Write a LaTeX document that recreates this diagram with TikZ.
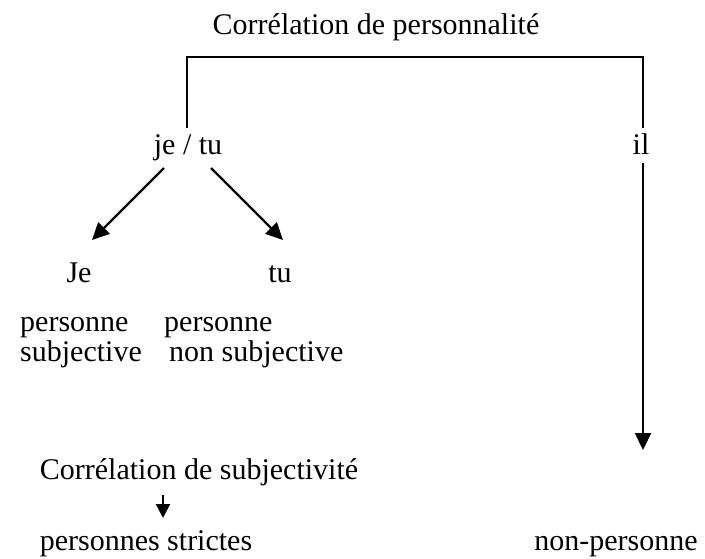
\documentclass[tikz,border=0pt]{standalone}
\usepackage{fontspec}
\setmainfont{Liberation Serif}
\usetikzlibrary{arrows.meta}
\begin{document}
\begin{tikzpicture}[x=1pt,y=-1pt,
  lbl/.style={inner sep=0pt,font=\fontsize{30}{35}\selectfont},
  conn/.style={line width=2.2pt},
  arr/.style={conn,-{Triangle[length=17pt,width=16pt]}},
  smallarr/.style={conn,-{Triangle[length=14pt,width=14pt]}}]
\useasboundingbox (0,0) rectangle (705,558);
\node[lbl,anchor=base] (title) at (376,34) {Corrélation de personnalité};
\node[lbl,anchor=base] (jetu) at (188,154) {je / tu};
\node[lbl,anchor=base] (il) at (641,154) {il};
\node[lbl,anchor=base] (je) at (79,282) {Je};
\node[lbl,anchor=base] (tu) at (280,282) {tu};
\node[lbl,anchor=base west] (p1) at (20,331) {personne};
\node[lbl,anchor=base west] (s1) at (20,361) {subjective};
\node[lbl,anchor=base west] (p2) at (164,331) {personne};
\node[lbl,anchor=base west] (s2) at (169,361) {non subjective};
\node[lbl,anchor=base] (csub) at (199,479) {Corrélation de subjectivité};
\node[lbl,anchor=base] (pstr) at (146,550) {personnes strictes};
\node[lbl,anchor=base] (nonp) at (616,550) {non-personne};
\coordinate (bl) at (187,128);
\coordinate (br) at (643,128);
\draw[conn] (bl) -- (187,57) -- (643,57) -- (br);
\coordinate (a1s) at (164,168);
\coordinate (a1e) at (92,240);
\coordinate (a2s) at (211,168);
\coordinate (a2e) at (283,240);
\draw[arr] (a1s) -- (a1e);
\draw[arr] (a2s) -- (a2e);
\coordinate (ils) at (643,163);
\coordinate (ile) at (643,450);
\draw[arr] (ils) -- (ile);
\coordinate (cs) at (163,495);
\coordinate (ce) at (163,518);
\draw[smallarr] (cs) -- (ce);
\end{tikzpicture}
\end{document}
